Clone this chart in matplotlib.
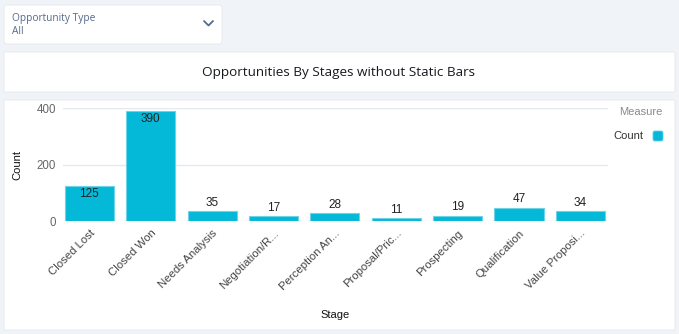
import numpy as np
import matplotlib; matplotlib.use("Agg")
import matplotlib.pyplot as plt
from matplotlib.patches import FancyBboxPatch

# data
stages = ["Closed Lost", "Closed Won", "Needs Analysis", "Negotiation/R...",
          "Perception An...", "Proposal/Pric...", "Prospecting",
          "Qualification", "Value Proposi..."]
counts = [125, 390, 35, 17, 28, 11, 19, 47, 34]
yticks = [0, 200, 400]

W, H = 679, 334
BG = "#f0f4f8"
BAR = "#04b8d8"
plt.rcParams["font.family"] = ["Liberation Sans", "DejaVu Sans"]

fig = plt.figure(figsize=(W/100, H/100), dpi=100, facecolor=BG)

# background layer in pixel coords for the cards
bg = fig.add_axes([0, 0, 1, 1]); bg.set_xlim(0, W); bg.set_ylim(H, 0); bg.axis("off")
for x0, y0, x1, y1, r in [(4, 5, 222, 44, 3), (4, 52, 675, 92, 1), (4, 100, 675, 330, 1)]:
    bg.add_patch(FancyBboxPatch((x0, y0), x1-x0, y1-y0, boxstyle=f"round,pad=0,rounding_size={r}",
                                fc="white", ec="#e3e8ee", lw=0.6))
bg.text(12, 18, "Opportunity Type", fontsize=7.3, color="#54698d", va="center",
        family=["Open Sans", "DejaVu Sans"])
bg.text(12, 31.5, "All", fontsize=7.3, color="#54698d", va="center",
        family=["Open Sans", "DejaVu Sans"])
bg.plot([204, 208.5, 213], [21, 25.5, 21], color="#54698d", lw=1.3, solid_capstyle="round")
bg.text(339, 72.5, "Opportunities By Stages without Static Bars", fontsize=9.7, color="#16191f",
        ha="center", va="center", family=["Open Sans", "DejaVu Sans"])

# legend
bg.text(662, 112, "Measure", fontsize=8, color="#8a8a8a", ha="right", va="center")
bg.text(643, 136, "Count", fontsize=8, color="#333333", ha="right", va="center")
bg.add_patch(FancyBboxPatch((653, 131), 10, 10, boxstyle="round,pad=0,rounding_size=2",
                            fc=BAR, ec="#5fd0e6", lw=0.6))

# chart axes
left, right, top, base = 63, 608, 108, 221
ax = fig.add_axes([left/W, 1-base/H, (right-left)/W, (base-top)/H])
ax.set_facecolor("none")
x = np.arange(len(stages))
ax.bar(x, counts, width=0.8, color=BAR, edgecolor="#6fd3e8", lw=0.8, zorder=3)
ax.set_xlim(-0.43, len(stages) - 1 + 0.45)
ax.set_ylim(0, 400)
ax.set_yticks(yticks)
ax.set_yticklabels([str(v) for v in yticks], fontsize=8.3, color="#666666")
ax.grid(axis="y", color="#e4e9ef", lw=1, zorder=0)
ax.set_xticks(x)
ax.set_xticklabels(stages, rotation=45, ha="right", rotation_mode="anchor",
                   fontsize=8.2, color="#444444")
ax.tick_params(length=0, axis="both")
ax.tick_params(axis="x", pad=5)
ax.tick_params(axis="y", pad=5)
for s in ax.spines.values():
    s.set_visible(False)
for xi, v in zip(x, counts):
    if v > 100:
        ax.text(xi, v - 9, str(v), ha="center", va="top", fontsize=8.5, color="#222222", zorder=4)
    else:
        ax.text(xi, v + 8, str(v), ha="center", va="bottom", fontsize=8.5, color="#222222", zorder=4)

bg.text(17, 165, "Count", fontsize=8, color="#111111", rotation=90, ha="center", va="center")
bg.text(335, 315, "Stage", fontsize=8, color="#111111", ha="center", va="center")

fig.savefig("out.png", dpi=100, facecolor=BG)
